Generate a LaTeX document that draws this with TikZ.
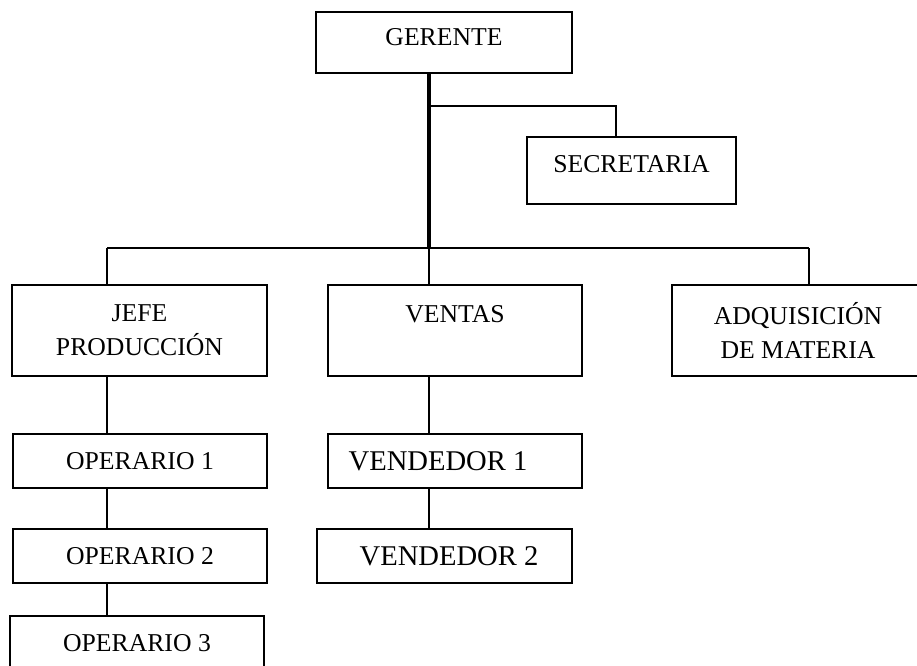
\documentclass[tikz,border=0pt]{standalone}
\usepackage{fontspec}
\setmainfont{Liberation Serif}
\usetikzlibrary{positioning, calc}
\tikzset{
  unitbox/.style={rectangle, draw=black, line width=1.3pt, minimum width=255pt, minimum height=54pt, inner sep=0pt, align=center, font=\fontsize{25.7}{34}\selectfont},
  tallbox/.style={unitbox, minimum height=91pt},
  bigtext/.style={font=\fontsize{28.6}{34}\selectfont},
  link/.style={line width=2pt},
  mainlink/.style={line width=3.5pt}
}

\begin{document}
\begin{tikzpicture}[x=1pt, y=-1pt]
  \useasboundingbox (0,0) rectangle (917,665);
  \clip (0,0) rectangle (917,665);
  % top
  \node[unitbox, minimum width=256pt, minimum height=61pt, text depth=11pt] (gerente) at (444,42.5) {GERENTE};
  \node[unitbox, minimum width=209pt, minimum height=67pt, text depth=13pt] (secretaria) at (631.5,170.5) {SECRETARIA};
  % second level
  \node[tallbox] (jefe) at (139.5,330.5) {JEFE\\PRODUCCIÓN};
  \node[tallbox, minimum width=254pt] (ventas) at (455,330.5) {VENTAS\\\mbox{}};
  \node[tallbox, minimum width=265pt] (adquisicion) at (804.5,330.5) {ADQUISICIÓN\rule{13pt}{0pt}\\DE MATERIA\rule{13pt}{0pt}};
  % third level
  \node[unitbox, minimum width=254pt] (op1) at (140,461) {OPERARIO 1};
  \node[unitbox, minimum width=254pt] (op2) at (140,556) {OPERARIO 2};
  \node[unitbox, minimum width=254pt] (op3) at (137,643) {OPERARIO 3};
  \node[unitbox, bigtext, minimum width=254pt] (vend1) at (455,461) {VENDEDOR 1\rule{34pt}{0pt}};
  \node[unitbox, bigtext] (vend2) at (444.5,556) {\rule{9pt}{0pt}VENDEDOR 2};
  % connectors
  \coordinate (hub) at (429,248);
  \coordinate (secturn) at (616,106);
  \coordinate (colA) at (107,248);
  \coordinate (colC) at (809,248);
  \draw[mainlink] (gerente.south -| hub) -- (hub);
  \draw[link, line width=2.5pt] (hub |- secturn) -- (secturn) -- (secturn |- secretaria.north);
  \draw[link] (colA) -- (colC);
  \draw[link] (colA) -- (colA |- jefe.north);
  \draw[link] (hub) -- (hub |- ventas.north);
  \draw[link] (colC) -- (colC |- adquisicion.north);
  \draw[link] (colA |- jefe.south) -- (colA |- op1.north);
  \draw[link] (colA |- op1.south) -- (colA |- op2.north);
  \draw[link] (colA |- op2.south) -- (colA |- op3.north);
  \draw[link] (hub |- ventas.south) -- (hub |- vend1.north);
  \draw[link] (hub |- vend1.south) -- (hub |- vend2.north);
\end{tikzpicture}
\end{document}
